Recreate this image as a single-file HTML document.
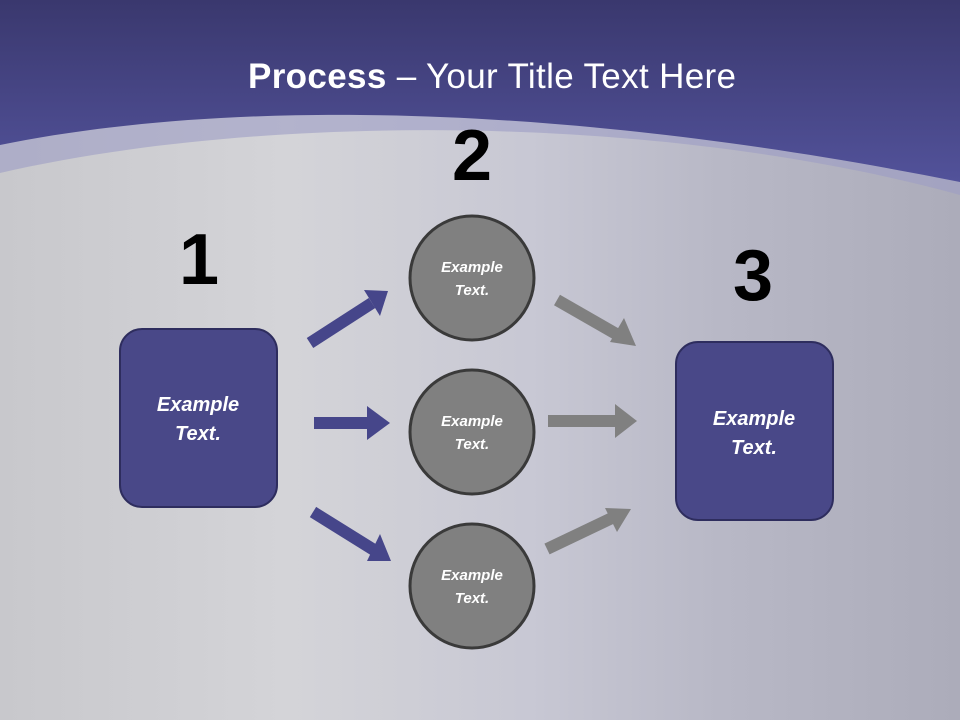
<!DOCTYPE html>
<html><head><meta charset="utf-8"><style>
html,body{margin:0;padding:0;width:960px;height:720px;overflow:hidden}
svg{display:block}
text{font-family:"Liberation Sans",sans-serif}
</style></head><body>
<svg width="960" height="720" viewBox="0 0 960 720" xmlns="http://www.w3.org/2000/svg">
<defs>
<linearGradient id="bg" x1="0" y1="0" x2="1" y2="0">
<stop offset="0" stop-color="#c8c8cc"/>
<stop offset="0.3" stop-color="#d4d4d8"/>
<stop offset="0.55" stop-color="#c8c8d4"/>
<stop offset="0.75" stop-color="#b8b8c6"/>
<stop offset="1" stop-color="#acacba"/>
</linearGradient>
<linearGradient id="top" x1="0" y1="0" x2="0" y2="1">
<stop offset="0" stop-color="#3a386e"/>
<stop offset="1" stop-color="#52529a"/>
</linearGradient>
</defs>
<rect width="960" height="720" fill="url(#bg)"/>
<path d="M0,173 C250,115 650,110 960,195 L960,0 L0,0Z" fill="#9c9cc4" opacity="0.6"/>
<path d="M0,145 C180,108 500,90 960,182 L960,0 L0,0Z" fill="url(#top)"/>
<text x="492" y="88" text-anchor="middle" font-size="35" fill="#fff" textLength="488"><tspan font-weight="bold">Process</tspan> – Your Title Text Here</text>
<text x="199" y="284" text-anchor="middle" font-size="72" font-weight="bold" fill="#000">1</text>
<text x="472" y="180" text-anchor="middle" font-size="72" font-weight="bold" fill="#000">2</text>
<text x="753" y="300" text-anchor="middle" font-size="72" font-weight="bold" fill="#000">3</text>
<g stroke-width="12" fill="none">
<line x1="310" y1="343" x2="372" y2="303" stroke="#46468a"/>
<line x1="314" y1="423" x2="368" y2="423" stroke="#46468a"/>
<line x1="313" y1="512" x2="374" y2="550" stroke="#46468a"/>
<line x1="557" y1="300" x2="618" y2="335" stroke="#808080"/>
<line x1="548" y1="421" x2="618" y2="421" stroke="#808080"/>
<line x1="547" y1="549" x2="612" y2="518" stroke="#808080"/>
</g>
<g fill="#46468a">
<polygon points="388,291 364,290 380,316"/>
<polygon points="390,423 367,406 367,440"/>
<polygon points="391,561 380,534 367,561"/>
</g>
<g fill="#808080">
<polygon points="636,346 624,318 610,342"/>
<polygon points="637,421 615,404 615,438"/>
<polygon points="631,509 605,508 617,532"/>
</g>
<rect x="120" y="329" width="157" height="178" rx="22" fill="#494888" stroke="#2e2d5e" stroke-width="2"/>
<rect x="676" y="342" width="157" height="178" rx="22" fill="#494888" stroke="#2e2d5e" stroke-width="2"/>
<g fill="#fff" font-style="italic" font-weight="bold" text-anchor="middle">
<text x="198" y="411" font-size="20">Example</text>
<text x="198" y="440" font-size="20">Text.</text>
<text x="754" y="425" font-size="20">Example</text>
<text x="754" y="454" font-size="20">Text.</text>
</g>
<g fill="#808080" stroke="#3a3a3a" stroke-width="3">
<circle cx="472" cy="278" r="62"/>
<circle cx="472" cy="432" r="62"/>
<circle cx="472" cy="586" r="62"/>
</g>
<g fill="#fff" font-style="italic" font-weight="bold" text-anchor="middle" font-size="15">
<text x="472" y="272">Example</text><text x="472" y="295">Text.</text>
<text x="472" y="426">Example</text><text x="472" y="449">Text.</text>
<text x="472" y="580">Example</text><text x="472" y="603">Text.</text>
</g>
</svg>
</body></html>
